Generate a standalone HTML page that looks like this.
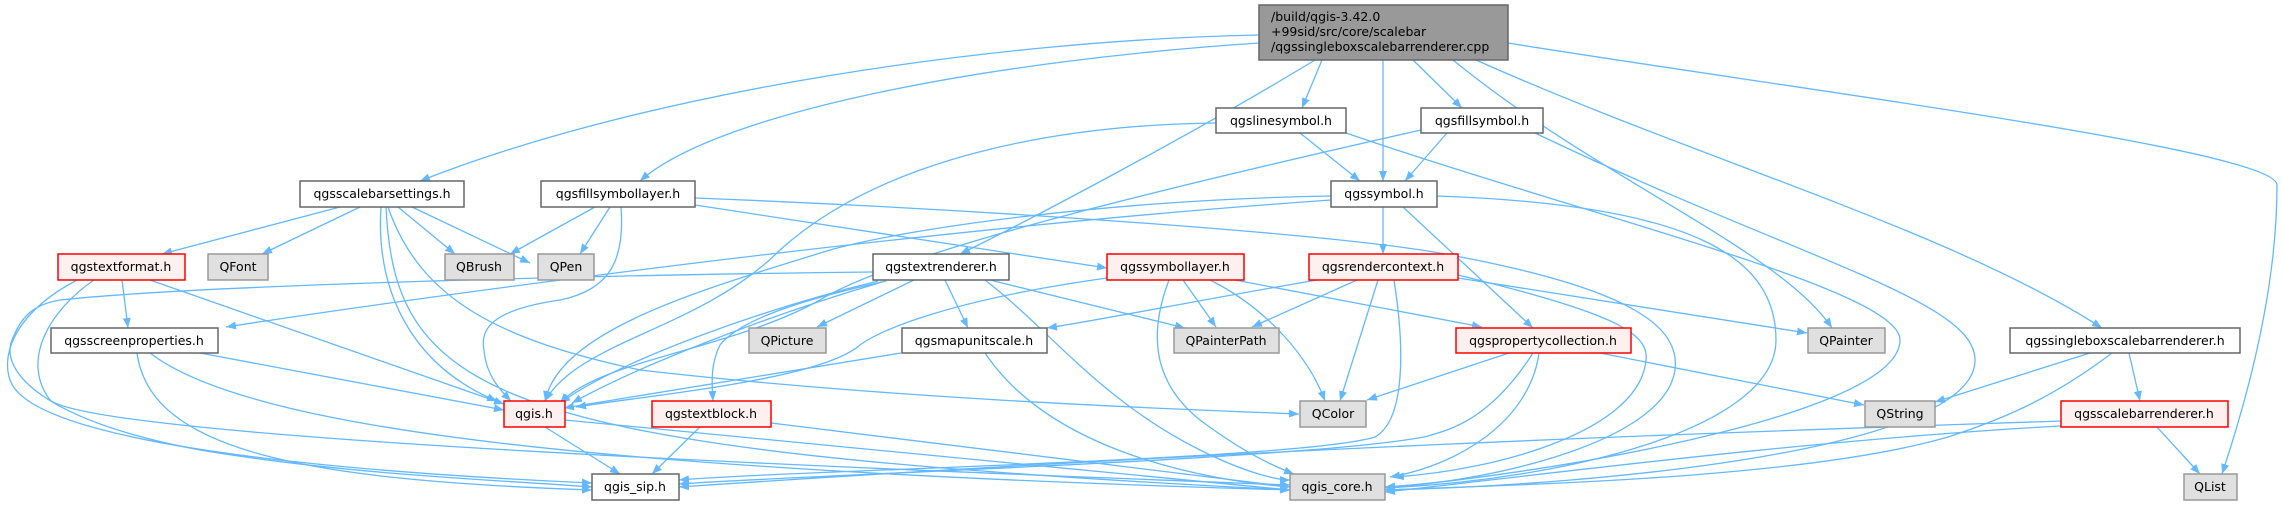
<!DOCTYPE html>
<html><head><meta charset="utf-8"><style>
html,body{margin:0;padding:0;background:#fff;}
svg{display:block;}
text{font-family:"DejaVu Sans","Liberation Sans",sans-serif;font-size:12.5px;fill:#000;}
.e{fill:none;stroke:#63b8ff;stroke-width:1.3;marker-end:url(#a);}
.w{fill:#fff;stroke:#666;stroke-width:1.5;}
.r{fill:#fff0f0;stroke:#ff0000;stroke-width:1.5;}
.g{fill:#e0e0e0;stroke:#999;stroke-width:1.5;}
.m{fill:#999;stroke:#666;stroke-width:1.5;}
</style></head><body>
<svg width="2282" height="505" viewBox="0 0 2282 505" xmlns="http://www.w3.org/2000/svg">
<defs><marker id="a" markerUnits="userSpaceOnUse" markerWidth="11" markerHeight="9" refX="10" refY="4" orient="auto"><path d="M0,0 L10,4 L0,8 z" fill="#63b8ff"/></marker></defs>
<g>
<!-- main -->
<path class="e" d="M1259,35 C1000,40 650,90 420,181"/>
<path class="e" d="M1259,43 C1000,60 720,110 640,181"/>
<path class="e" d="M1315,60 C1200,130 1030,220 960,254"/>
<path class="e" d="M1322,60 L1302,108"/>
<path class="e" d="M1383,60 L1383,181"/>
<path class="e" d="M1413,60 L1462,108"/>
<path class="e" d="M1453,60 C1600,180 1780,250 1832,328"/>
<path class="e" d="M1476,60 C1700,160 1950,230 2102,328"/>
<path class="e" d="M1508,43 C1800,90 2277,150 2277,185 C2277,300 2240,420 2222,474"/>
<!-- linesymbol -->
<path class="e" d="M1300,133 L1360,181"/>
<path class="e" d="M1216,123 C1050,125 880,160 780,250 C700,330 580,340 545,401"/>
<path class="e" d="M1346,133 C1600,220 1900,290 1900,340 C1900,420 1500,480 1385,487"/>
<!-- fillsymbol -->
<path class="e" d="M1447,133 L1405,181"/>
<path class="e" d="M1421,130 C1200,180 900,250 820,300 C730,350 600,360 560,403"/>
<path class="e" d="M1535,133 C1800,260 1975,300 1975,360 C1975,450 1600,485 1385,490"/>
<!-- scalebarsettings -->
<path class="e" d="M340,207 L162,254"/>
<path class="e" d="M360,207 L262,254"/>
<path class="e" d="M398,207 L455,254"/>
<path class="e" d="M412,207 L530,263"/>
<path class="e" d="M381,207 C375,300 420,370 497,401"/>
<path class="e" d="M386,207 C395,400 500,450 1290,490"/>
<path class="e" d="M388,207 C420,300 500,340 640,370 C900,400 1200,410 1299,414"/>
<!-- fillsymbollayer -->
<path class="e" d="M595,207 L510,254"/>
<path class="e" d="M610,207 L580,254"/>
<path class="e" d="M621,207 C625,260 610,290 560,300 C490,310 480,330 484,350 C486,375 500,390 511,401"/>
<path class="e" d="M695,205 L1107,268"/>
<path class="e" d="M695,198 C1000,210 1350,235 1450,255 C1640,290 1680,330 1675,370 C1665,440 1500,480 1385,488"/>
<!-- qgssymbol -->
<path class="e" d="M1383,207 L1383,254"/>
<path class="e" d="M1403,207 L1533,328"/>
<path class="e" d="M1437,196 C1700,205 1776,260 1776,340 C1776,430 1560,480 1385,488"/>
<path class="e" d="M1331,196 C1100,200 900,230 830,250 C700,290 560,330 545,401"/>
<path class="e" d="M1331,200 C900,230 400,300 226,327"/>
<!-- textformat -->
<path class="e" d="M122,280 L128,328"/>
<path class="e" d="M150,280 L504,404"/>
<path class="e" d="M77,280 C20,310 0,350 10,380 C30,440 300,470 592,483"/>
<path class="e" d="M94,280 C50,310 20,360 50,400 C100,440 900,470 1290,485"/>
<!-- screenproperties -->
<path class="e" d="M200,353 L504,410"/>
<path class="e" d="M137,353 C150,450 300,480 592,490"/>
<path class="e" d="M150,353 C250,430 600,470 1290,490"/>
<!-- textrenderer -->
<path class="e" d="M914,280 L817,327"/>
<path class="e" d="M945,280 L968,328"/>
<path class="e" d="M990,280 L1185,328"/>
<path class="e" d="M886,281 C800,300 740,320 720,345 C710,365 712,385 713,401"/>
<path class="e" d="M873,272 C600,275 200,285 60,300 C30,305 20,320 12,340 C0,370 40,420 200,450 C350,475 500,480 592,487"/>
<path class="e" d="M878,281 C760,310 620,360 560,403"/>
<path class="e" d="M882,282 C770,315 640,365 572,403"/>
<path class="e" d="M985,280 C1050,330 1100,400 1200,450 C1250,475 1280,480 1290,480"/>
<!-- symbollayer -->
<path class="e" d="M1183,280 L1216,327"/>
<path class="e" d="M1235,280 L1482,327"/>
<path class="e" d="M1169,280 C1150,330 1150,380 1200,420 C1240,450 1270,465 1294,474"/>
<path class="e" d="M1210,280 C1270,310 1310,360 1325,401"/>
<path class="e" d="M1107,278 C950,300 880,330 860,345 C820,380 650,395 576,407"/>
<!-- rendercontext -->
<path class="e" d="M1317,280 C1200,300 1100,320 1047,328"/>
<path class="e" d="M1357,280 L1252,327"/>
<path class="e" d="M1378,280 L1340,401"/>
<path class="e" d="M1458,278 L1807,333"/>
<path class="e" d="M1394,280 C1405,350 1405,420 1375,437 C1300,460 800,470 679,480"/>
<path class="e" d="M1458,275 C1600,310 1650,330 1646,360 C1640,430 1500,470 1394,477"/>
<!-- propertycollection -->
<path class="e" d="M1509,353 L1367,400"/>
<path class="e" d="M1600,353 L1864,405"/>
<path class="e" d="M1539,353 C1530,420 1460,465 1390,477"/>
<path class="e" d="M1533,353 C1490,420 1450,430 1424,437 C1300,460 800,475 679,484"/>
<!-- mapunitscale -->
<path class="e" d="M901,353 L564,408"/>
<path class="e" d="M985,353 C1050,450 1200,480 1290,487"/>
<!-- qgis.h / textblock -->
<path class="e" d="M565,420 L1290,490"/>
<path class="e" d="M545,427 L620,474"/>
<path class="e" d="M700,427 L652,474"/>
<path class="e" d="M771,423 L1290,487"/>
<!-- singlebox -->
<path class="e" d="M2090,353 L1935,402"/>
<path class="e" d="M2129,353 L2140,401"/>
<path class="e" d="M2112,353 C2050,400 2000,420 1948,437 C1800,480 1500,485 1385,490"/>
<!-- scalebarrenderer -->
<path class="e" d="M2157,427 L2200,474"/>
<path class="e" d="M2061,421 C1800,430 1300,445 679,487"/>
<path class="e" d="M2061,426 C1800,440 1500,480 1385,492"/>
</g>
<g>
<rect class="m" x="1259" y="5" width="249" height="55"/>
<text x="1271" y="21">/build/qgis-3.42.0</text>
<text x="1271" y="36">+99sid/src/core/scalebar</text>
<text x="1271" y="51">/qgssingleboxscalebarrenderer.cpp</text>

<rect class="w" x="1216" y="108" width="130" height="25"/><text x="1281" y="125" text-anchor="middle">qgslinesymbol.h</text>
<rect class="w" x="1421" y="108" width="122" height="25"/><text x="1482" y="125" text-anchor="middle">qgsfillsymbol.h</text>

<rect class="w" x="300" y="181" width="164" height="26"/><text x="382" y="198" text-anchor="middle">qgsscalebarsettings.h</text>
<rect class="w" x="541" y="181" width="154" height="26"/><text x="618" y="198" text-anchor="middle">qgsfillsymbollayer.h</text>
<rect class="w" x="1331" y="181" width="106" height="26"/><text x="1384" y="198" text-anchor="middle">qgssymbol.h</text>

<rect class="r" x="58" y="254" width="127" height="26"/><text x="121" y="271" text-anchor="middle">qgstextformat.h</text>
<rect class="g" x="208" y="254" width="60" height="26"/><text x="238" y="271" text-anchor="middle">QFont</text>
<rect class="g" x="445" y="254" width="69" height="26"/><text x="479" y="271" text-anchor="middle">QBrush</text>
<rect class="g" x="538" y="254" width="56" height="26"/><text x="566" y="271" text-anchor="middle">QPen</text>
<rect class="w" x="873" y="254" width="136" height="26"/><text x="941" y="271" text-anchor="middle">qgstextrenderer.h</text>
<rect class="r" x="1107" y="254" width="137" height="26"/><text x="1175" y="271" text-anchor="middle">qgssymbollayer.h</text>
<rect class="r" x="1309" y="254" width="149" height="26"/><text x="1383" y="271" text-anchor="middle">qgsrendercontext.h</text>

<rect class="w" x="51" y="328" width="167" height="25"/><text x="134" y="345" text-anchor="middle">qgsscreenproperties.h</text>
<rect class="g" x="749" y="328" width="77" height="25"/><text x="787" y="345" text-anchor="middle">QPicture</text>
<rect class="w" x="902" y="328" width="145" height="25"/><text x="974" y="345" text-anchor="middle">qgsmapunitscale.h</text>
<rect class="g" x="1174" y="328" width="105" height="25"/><text x="1226" y="345" text-anchor="middle">QPainterPath</text>
<rect class="r" x="1456" y="328" width="175" height="25"/><text x="1543" y="345" text-anchor="middle">qgspropertycollection.h</text>
<rect class="g" x="1808" y="328" width="77" height="25"/><text x="1846" y="345" text-anchor="middle">QPainter</text>
<rect class="w" x="2010" y="328" width="230" height="25"/><text x="2125" y="345" text-anchor="middle">qgssingleboxscalebarrenderer.h</text>

<rect class="r" x="504" y="401" width="61" height="26"/><text x="534" y="418" text-anchor="middle">qgis.h</text>
<rect class="r" x="652" y="401" width="119" height="26"/><text x="711" y="418" text-anchor="middle">qgstextblock.h</text>
<rect class="g" x="1300" y="401" width="66" height="26"/><text x="1333" y="418" text-anchor="middle">QColor</text>
<rect class="g" x="1865" y="401" width="70" height="26"/><text x="1900" y="418" text-anchor="middle">QString</text>
<rect class="r" x="2061" y="401" width="167" height="26"/><text x="2144" y="418" text-anchor="middle">qgsscalebarrenderer.h</text>

<rect class="w" x="592" y="474" width="87" height="26"/><text x="635" y="491" text-anchor="middle">qgis_sip.h</text>
<rect class="g" x="1290" y="474" width="95" height="26"/><text x="1337" y="491" text-anchor="middle">qgis_core.h</text>
<rect class="g" x="2184" y="474" width="53" height="26"/><text x="2210" y="491" text-anchor="middle">QList</text>
</g>
</svg>
</body></html>
